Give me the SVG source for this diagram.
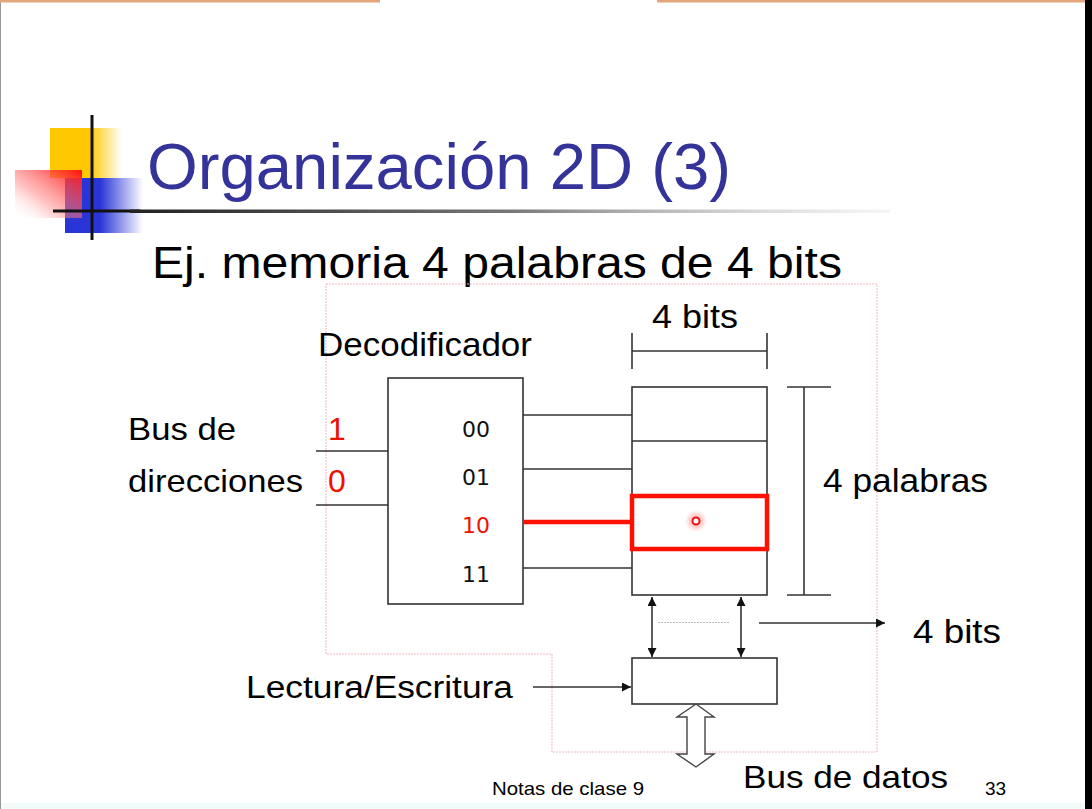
<svg xmlns="http://www.w3.org/2000/svg" width="1092" height="809" viewBox="0 0 1092 809">
  <defs>
    <style>
      .t { font-family: "Liberation Sans", Arial, sans-serif; fill: #000; }
      .d { font-family: "DejaVu Sans", Verdana, sans-serif; font-size: 22px; fill: #111; }
      .red { fill: #ee1100; }
      .ln { stroke: #333; stroke-width: 1.6; fill: none; }
      .box { stroke: #333; stroke-width: 1.6; fill: #fff; }
      .frame { stroke: #f0b8c0; stroke-width: 1; fill: none; stroke-dasharray: 2 1; }
    </style>
    <marker id="ah" viewBox="0 0 10 10" refX="10" refY="5" markerWidth="9" markerHeight="9" markerUnits="userSpaceOnUse" orient="auto-start-reverse">
      <path d="M0,0 L10,5 L0,10 z" fill="#111"/>
    </marker>
    <linearGradient id="gYellow" x1="0" y1="0" x2="1" y2="0">
      <stop offset="0" stop-color="#ffc800"/>
      <stop offset="0.55" stop-color="#ffc800"/>
      <stop offset="1" stop-color="#ffc800" stop-opacity="0"/>
    </linearGradient>
    <linearGradient id="gRed" x1="1" y1="0" x2="0" y2="1">
      <stop offset="0" stop-color="#ff1010"/>
      <stop offset="0.6" stop-color="#ff8080" stop-opacity="0.5"/>
      <stop offset="1" stop-color="#ffffff" stop-opacity="0"/>
    </linearGradient>
    <linearGradient id="gBlue" x1="0" y1="0" x2="1" y2="0">
      <stop offset="0" stop-color="#2a35d8"/>
      <stop offset="0.45" stop-color="#2a35d8"/>
      <stop offset="1" stop-color="#2a35d8" stop-opacity="0"/>
    </linearGradient>
    <linearGradient id="gRule" x1="0" y1="0" x2="1" y2="0">
      <stop offset="0" stop-color="#222"/>
      <stop offset="0.5" stop-color="#777"/>
      <stop offset="1" stop-color="#ddd" stop-opacity="0.3"/>
    </linearGradient>
    <radialGradient id="gGlow">
      <stop offset="0" stop-color="#ff4040" stop-opacity="0.55"/>
      <stop offset="1" stop-color="#ff4040" stop-opacity="0"/>
    </radialGradient>
  </defs>

  <!-- page -->
  <rect x="0" y="0" width="1092" height="809" fill="#fff"/>
  <rect x="0" y="803" width="1085" height="6" fill="#f1fbfa"/>
  <line x1="0.5" y1="0" x2="0.5" y2="809" stroke="#999" stroke-width="1"/>
  <rect x="1085" y="0" width="7" height="809" fill="#000"/>
  <rect x="0" y="0" width="380" height="2.5" fill="#e3a57a"/>
  <rect x="657" y="0" width="428" height="2.5" fill="#e3a57a"/>

  <!-- title decoration -->
  <g id="logo">
    <rect x="50" y="128" width="72" height="50" fill="url(#gYellow)"/>
    <rect x="65" y="178" width="78" height="55" fill="url(#gBlue)"/>
    <rect x="15" y="170" width="67" height="48" fill="url(#gRed)"/>
    <line x1="92" y1="115" x2="92" y2="240" stroke="#111" stroke-width="3"/>
    <line x1="53" y1="211" x2="140" y2="211" stroke="#111" stroke-width="3"/>
  </g>
  <rect x="130" y="209.5" width="760" height="3.5" fill="url(#gRule)"/>

  <text x="147" y="189" class="t" font-size="64" fill="#33339a" style="fill:#33339a" textLength="584" lengthAdjust="spacingAndGlyphs">Organización 2D (3)</text>
  <text x="152" y="278" class="t" font-size="44" textLength="690" lengthAdjust="spacingAndGlyphs">Ej. memoria 4 palabras de 4 bits</text>

  <!-- dotted outline of the memory block -->
  <path class="frame" d="M326,284 H877 V752 H552 V654 H326 Z"/>

  <!-- address bus -->
  <g id="address-bus">
    <text x="128" y="440" class="t" font-size="32" textLength="108" lengthAdjust="spacingAndGlyphs">Bus de</text>
    <text x="128" y="492" class="t" font-size="32" textLength="175" lengthAdjust="spacingAndGlyphs">direcciones</text>
    <text x="328" y="440" class="t red" font-size="32" style="fill:#ee1100">1</text>
    <text x="328" y="492" class="t red" font-size="32" style="fill:#ee1100">0</text>
  </g>

  <!-- decoder -->
  <g id="decoder">
    <text x="318" y="356" class="t" font-size="33" textLength="214" lengthAdjust="spacingAndGlyphs">Decodificador</text>
    <rect class="box" x="388" y="378" width="135" height="226"/>
    <text x="462" y="437" class="d">00</text>
    <text x="462" y="485" class="d">01</text>
    <text x="462" y="533" class="d" style="fill:#ee1100">10</text>
    <text x="462" y="582" class="d">11</text>
  </g>

  <!-- memory array -->
  <g id="memory">
    <rect class="box" x="632" y="387" width="135" height="208"/>
    <line class="ln" x1="632" y1="441" x2="767" y2="441"/>
    <line class="ln" x1="632" y1="495" x2="767" y2="495"/>
    <line class="ln" x1="632" y1="549" x2="767" y2="549"/>
    <rect x="632" y="496" width="135" height="53" fill="none" stroke="#ff1100" stroke-width="4.5"/>
    <circle cx="696" cy="521" r="11" fill="url(#gGlow)"/>
    <circle cx="696" cy="521" r="3.5" fill="#fff" stroke="#e81010" stroke-width="2"/>
  </g>

  <!-- width / height dimensions -->
  <g id="dim-bits">
    <text x="652" y="328" class="t" font-size="33" textLength="86" lengthAdjust="spacingAndGlyphs">4 bits</text>
    <line class="ln" x1="632" y1="351" x2="767" y2="351"/>
    <line class="ln" x1="632" y1="333" x2="632" y2="369"/>
    <line class="ln" x1="767" y1="333" x2="767" y2="369"/>
  </g>
  <g id="dim-words">
    <line class="ln" x1="804" y1="387" x2="804" y2="595"/>
    <line class="ln" x1="787" y1="387" x2="831" y2="387"/>
    <line class="ln" x1="787" y1="595" x2="831" y2="595"/>
    <text x="823" y="492" class="t" font-size="33" textLength="165" lengthAdjust="spacingAndGlyphs">4 palabras</text>
  </g>

  <!-- read/write register -->
  <g id="rw-register">
    <rect class="box" x="632" y="658" width="145" height="46"/>
    <text x="246" y="698" class="t" font-size="31" textLength="267" lengthAdjust="spacingAndGlyphs">Lectura/Escritura</text>
  </g>

  <!-- data bus -->
  <g id="data-bus">
    <path d="M696,704 L714,717 L705,717 L705,754 L714,754 L696,767 L677,754 L687,754 L687,717 L677,717 Z" fill="#fff" stroke="#444" stroke-width="1.4"/>
    <text x="743" y="788" class="t" font-size="32" textLength="205" lengthAdjust="spacingAndGlyphs">Bus de datos</text>
  </g>

  <g id="out-label">
    <text x="913" y="643" class="t" font-size="33" textLength="88" lengthAdjust="spacingAndGlyphs">4 bits</text>
  </g>

  <!-- connectors -->
  <g id="connectors">
    <line class="ln" x1="316" y1="451" x2="388" y2="451"/>
    <line class="ln" x1="316" y1="505" x2="388" y2="505"/>
    <line class="ln" x1="523" y1="415" x2="632" y2="415"/>
    <line class="ln" x1="523" y1="469" x2="632" y2="469"/>
    <line x1="523" y1="522" x2="632" y2="522" stroke="#ff1100" stroke-width="4.5"/>
    <line class="ln" x1="523" y1="568" x2="632" y2="568"/>
    <line class="ln" x1="652" y1="597" x2="652" y2="657" marker-start="url(#ah)" marker-end="url(#ah)"/>
    <line class="ln" x1="741" y1="597" x2="741" y2="657" marker-start="url(#ah)" marker-end="url(#ah)"/>
    <line x1="658" y1="622.5" x2="730" y2="622.5" stroke="#bbb" stroke-width="1" stroke-dasharray="2 1"/>
    <line class="ln" x1="759" y1="623" x2="885" y2="623" marker-end="url(#ah)"/>
    <line class="ln" x1="533" y1="687" x2="631" y2="687" marker-end="url(#ah)"/>
  </g>

  <!-- footer -->
  <text x="492" y="795" class="t" font-size="19" textLength="152" lengthAdjust="spacingAndGlyphs">Notas de clase 9</text>
  <text x="985" y="795" class="t" font-size="19">33</text>
</svg>
